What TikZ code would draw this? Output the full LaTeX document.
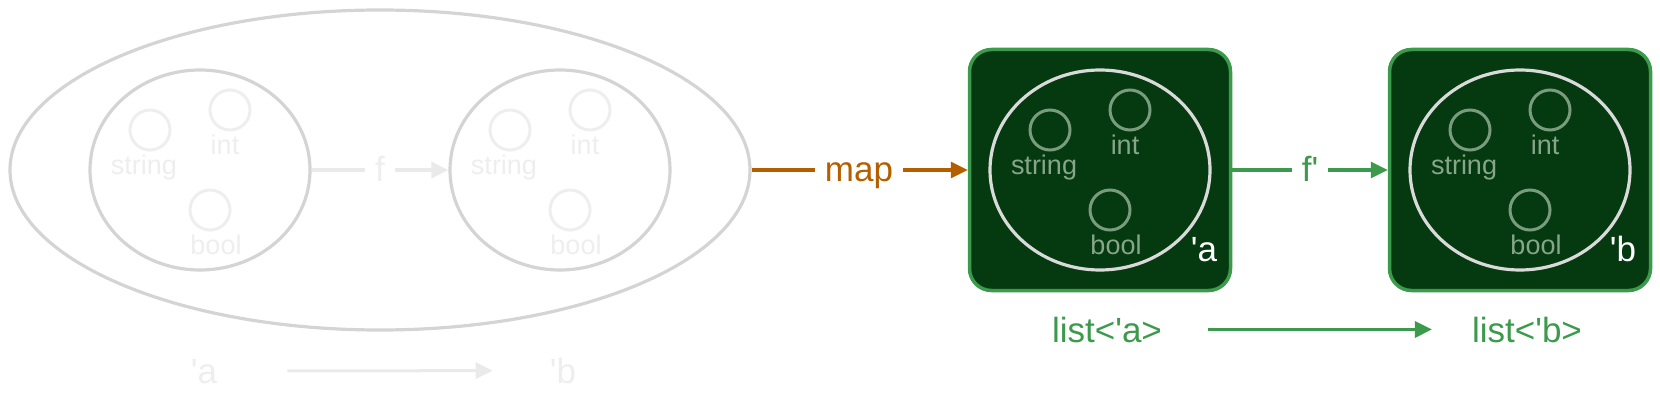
\documentclass[tikz,border=0pt]{standalone}
\usepackage{fontspec}
\setmainfont{Liberation Sans}[Ligatures=TeXOff]
\usetikzlibrary{arrows.meta,shapes.geometric}
\definecolor{fadeline}{HTML}{D4D4D4}
\definecolor{fadetext}{HTML}{EEEEEE}
\definecolor{fadearrow}{HTML}{EAEAEA}
\definecolor{mapor}{HTML}{B55E00}
\definecolor{grn}{HTML}{3C9A4C}
\definecolor{dkgrn}{HTML}{053A10}
\definecolor{inring}{HTML}{DADADA}
\definecolor{ingtext}{HTML}{86A589}
\definecolor{ingcirc}{HTML}{7A9C7E}
\newcommand\setmembers[4]{%
  \node[member,draw=#3] (#1s) at ({#2-50},130) {};
  \node[member,draw=#3] (#1i) at ({#2+30},110) {};
  \node[member,draw=#3] (#1b) at ({#2+10},210) {};
  \node[small,text=#4,anchor=base] (#1st) at ({#2-56},175) {string};
  \node[small,text=#4,anchor=base] (#1it) at ({#2+25},155) {int};
  \node[small,text=#4,anchor=base] (#1bt) at ({#2+16},254) {bool};
}
\begin{document}
\begin{tikzpicture}[x=1pt,y=-1pt,
  big/.style={font=\fontsize{35}{40}\selectfont, inner sep=0pt},
  small/.style={font=\fontsize{27}{32}\selectfont, inner sep=0pt},
  typeset/.style={ellipse, draw, line width=3.2pt, minimum width=220pt, minimum height=200pt, inner sep=0pt},
  member/.style={circle, draw, line width=3pt, minimum size=40pt, inner sep=0pt},
  listbox/.style={draw=grn, fill=dkgrn, line width=3.5pt, rounded corners=22pt, minimum width=261pt, minimum height=241pt, inner sep=0pt},
  conn/.style={line width=3pt},
  tip/.style={-{Triangle[length=17pt,width=16pt]}},
  midlbl/.style={big, inner xsep=10pt, anchor=base},
]
\useasboundingbox (0,0) rectangle (1660,401);

% faded left part
\node[ellipse, draw=fadeline, line width=3.2pt, minimum width=740pt, minimum height=320pt, inner sep=0pt] (outer) at (380,170) {};
\node[typeset, draw=fadeline] (L) at (200,170) {};
\node[typeset, draw=fadeline] (R) at (560,170) {};
\setmembers{l}{200}{fadetext}{fadetext}
\setmembers{r}{560}{fadetext}{fadetext}
\node[midlbl, text=fadetext] (f) at (380,181) {f};
\draw[conn, draw=fadearrow] (L.east) -- (L.east -| f.west);
\draw[conn, draw=fadearrow, tip] (f.east |- L.east) -- (R.west);

\node[big, text=fadetext, anchor=base] (qa) at (204,383) {'a};
\node[big, text=fadetext, anchor=base] (qb) at (563,383) {'b};
\draw[conn, draw=fadearrow, tip, shorten <=70pt, shorten >=57pt] (qa) -- (qb);

% map
\node[listbox] (A) at (1100,170) {};
\node[listbox] (B) at (1520,170) {};
\node[midlbl, text=mapor] (map) at (859,181) {map};
\draw[conn, draw=mapor] (outer.east) -- (outer.east -| map.west);
\draw[conn, draw=mapor, tip] (map.east |- outer.east) -- (A.west);

% list boxes
\node[typeset, draw=inring] (AE) at (1100,170) {};
\node[typeset, draw=inring] (BE) at (1520,170) {};
\setmembers{a}{1100}{ingcirc}{ingtext}
\setmembers{b}{1520}{ingcirc}{ingtext}
\node[big, text=white, anchor=base] (ta) at (1204,261) {'a};
\node[big, text=white, anchor=base] (tb) at (1623,261) {'b};

\node[midlbl, text=grn] (fp) at (1310,181) {f'};
\draw[conn, draw=grn] (A.east) -- (A.east -| fp.west);
\draw[conn, draw=grn, tip] (fp.east |- A.east) -- (B.west);

\node[big, text=grn, anchor=base] (la) at (1107,342) {list<'a>};
\node[big, text=grn, anchor=base] (lb) at (1527,342) {list<'b>};
\draw[conn, draw=grn, tip, shorten <=46pt, shorten >=40pt] (la) -- (lb);
\end{tikzpicture}
\end{document}
